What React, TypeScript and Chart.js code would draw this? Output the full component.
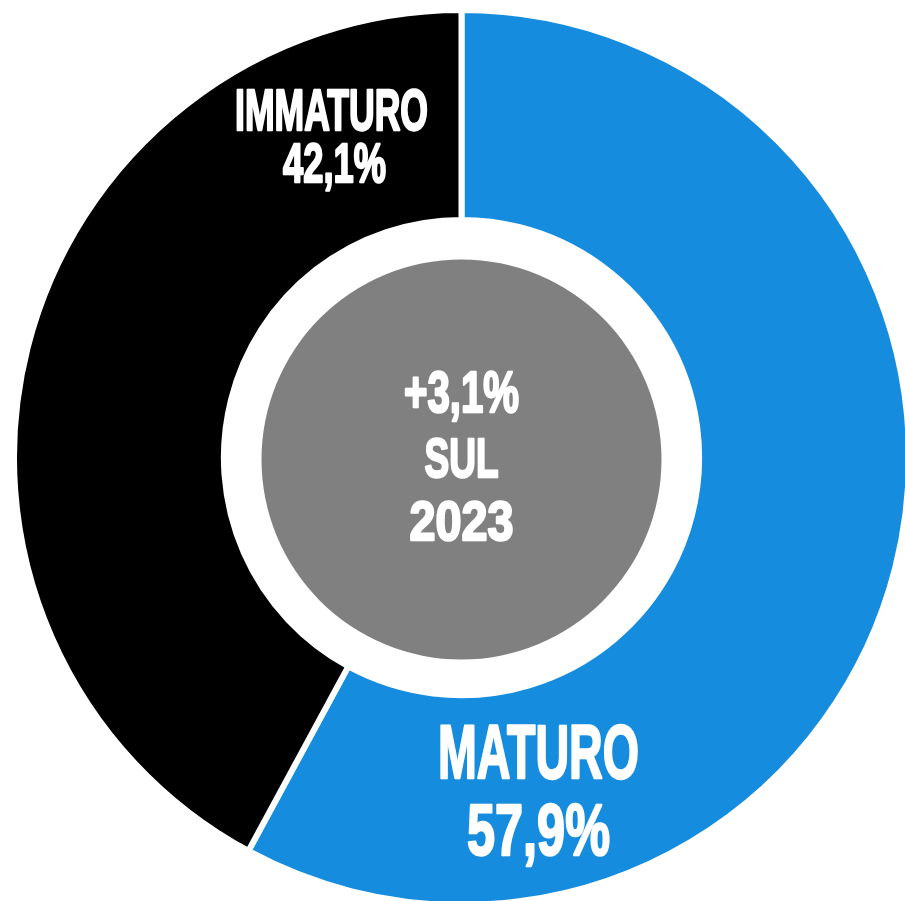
import React, { useEffect, useRef } from "react";
import { Chart, registerables } from "chart.js";

Chart.register(...registerables);

const categories = ["MATURO", "IMMATURO"];
const values = [57.9, 42.1];
const colors = ["#158cdd", "#000000"];
const centerLines = ["+3,1%", "SUL", "2023"];

const fmt = (v: number) => v.toFixed(1).replace(".", ",") + "%";

function drawCondensed(ctx: CanvasRenderingContext2D, text: string, x: number, y: number, size: number, width: number) {
  ctx.font = `bold ${size}px "Liberation Sans", Arial, sans-serif`;
  ctx.fillStyle = "#ffffff";
  ctx.strokeStyle = "#ffffff";
  ctx.lineWidth = 2.4;
  ctx.lineJoin = "round";
  ctx.textAlign = "center";
  ctx.textBaseline = "alphabetic";
  ctx.fillText(text, x, y - 1, width - 2);
  ctx.strokeText(text, x, y - 1, width - 2);
}

const labelPlugin = {
  id: "labels",
  afterDraw(chart: any) {
    const meta = chart.getDatasetMeta(0);
    const arc = meta.data[0];
    if (!arc) return;
    const cx = arc.x;
    const cy = arc.y;
    const ctx: CanvasRenderingContext2D = chart.ctx;
    ctx.save();
    // grey center disc
    ctx.beginPath();
    ctx.fillStyle = "#808080";
    ctx.arc(cx, cy + 2, 200, 0, Math.PI * 2);
    ctx.fill();
    // center text
    drawCondensed(ctx, centerLines[0], cx, cy - 45, 57, 117);
    drawCondensed(ctx, centerLines[1], cx, cy + 20, 56, 76);
    drawCondensed(ctx, centerLines[2], cx, cy + 83, 56, 106);
    // IMMATURO
    drawCondensed(ctx, categories[1], cx - 130, cy - 327, 58, 195);
    drawCondensed(ctx, fmt(values[1]), cx - 127, cy - 275, 56, 105);
    // MATURO
    drawCondensed(ctx, categories[0], cx + 77, cy + 321, 76, 203);
    drawCondensed(ctx, fmt(values[0]), cx + 77, cy + 398, 73, 145);
    ctx.restore();
  },
};

export default function App() {
  const ref = useRef<HTMLCanvasElement>(null);
  useEffect(() => {
    if (!ref.current) return;
    const chart = new Chart(ref.current, {
      type: "doughnut",
      data: {
        labels: categories,
        datasets: [
          {
            data: values,
            backgroundColor: colors,
            borderColor: "#ffffff",
            borderWidth: 6,
          },
        ],
      },
      options: {
        responsive: false,
        animation: false,
        cutout: "53.1%",
        layout: { padding: 0 },
        plugins: {
          legend: { display: false },
          tooltip: { enabled: false },
        },
      },
      plugins: [labelPlugin],
    });
    return () => chart.destroy();
  }, []);
  return (
    <div style={{ position: "fixed", left: 11, top: 7, width: 901, height: 901 }}>
      <canvas ref={ref} width={901} height={901} style={{ display: "block" }} />
    </div>
  );
}
